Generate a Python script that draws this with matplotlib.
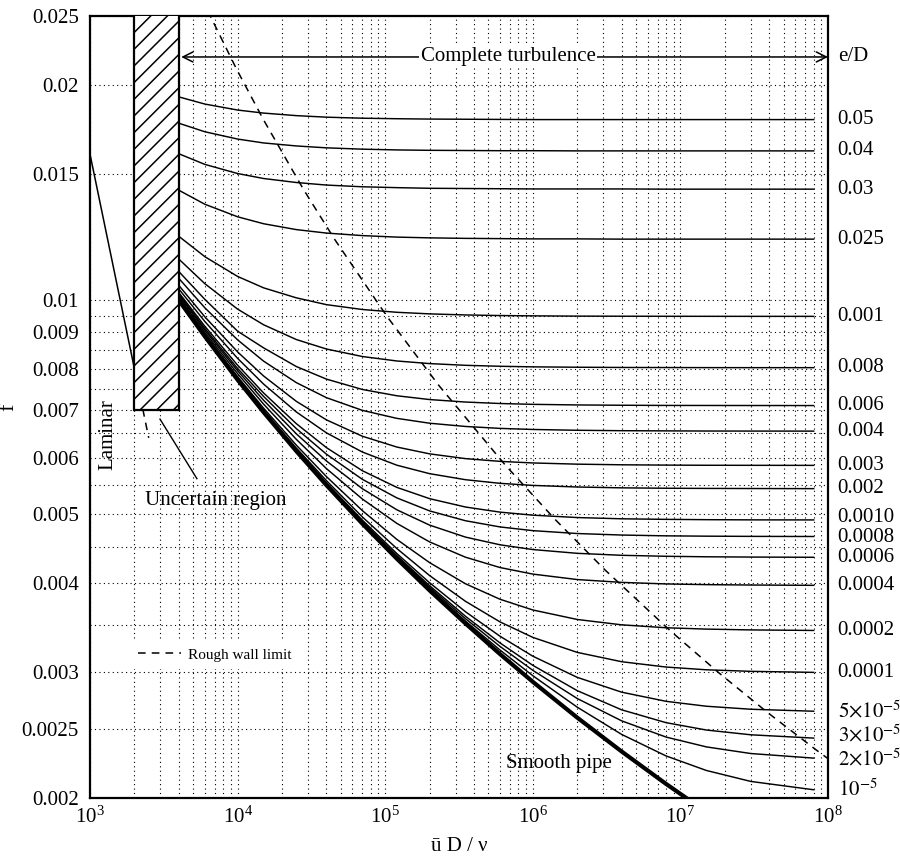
import matplotlib
matplotlib.use('Agg')
import matplotlib.pyplot as plt
import matplotlib.transforms as mtransforms
from matplotlib.lines import Line2D
from matplotlib.patches import Rectangle
from matplotlib.ticker import FixedLocator, FixedFormatter, NullFormatter, LogLocator

plt.rcParams['font.family'] = ['Liberation Serif', 'DejaVu Serif']
plt.rcParams['mathtext.fontset'] = 'stix'
plt.rcParams['hatch.linewidth'] = 1.1

# ---------------- data ----------------
re_grid = [4e3, 6e3, 1e4, 1.5e4, 2.5e4, 4e4, 7e4, 1.2e5, 2e5, 3.5e5, 6e5,
           1e6, 2e6, 4e6, 8e6, 1.5e7, 3e7, 8e7]

f_c01 = [0.01925, 0.01881, 0.01845, 0.01827, 0.01812, 0.01803, 0.01797, 0.01794, 0.01792,
         0.01791, 0.01790, 0.01789, 0.01789, 0.01789, 0.01789, 0.01789, 0.01789, 0.01789]
f_c02 = [0.01768, 0.01720, 0.01680, 0.01659, 0.01643, 0.01633, 0.01626, 0.01622, 0.01620,
         0.01619, 0.01618, 0.01618, 0.01617, 0.01617, 0.01617, 0.01617, 0.01617, 0.01617]
f_c03 = [0.01602, 0.01548, 0.01503, 0.01479, 0.01460, 0.01448, 0.01440, 0.01436, 0.01433,
         0.01432, 0.01431, 0.01430, 0.01430, 0.01430, 0.01429, 0.01429, 0.01429, 0.01429]
f_c04 = [0.01424, 0.01361, 0.01307, 0.01278, 0.01254, 0.01240, 0.01230, 0.01224, 0.01221,
         0.01219, 0.01218, 0.01217, 0.01217, 0.01216, 0.01216, 0.01216, 0.01216, 0.01216]
f_c05 = [0.01227, 0.01149, 0.01078, 0.01039, 0.01006, 0.009841, 0.009688, 0.009601, 0.009552,
         0.009519, 0.009501, 0.009491, 0.009483, 0.009480, 0.009478, 0.009477, 0.009476, 0.009476]
f_c06 = [0.01140, 0.01053, 0.009700, 0.009222, 0.008792, 0.008527, 0.008323, 0.008204, 0.008135,
         0.008090, 0.008065, 0.008050, 0.008040, 0.008034, 0.008032, 0.008030, 0.008029, 0.008029]
f_c07 = [0.01095, 0.01001, 0.009033, 0.008559, 0.008058, 0.007737, 0.007483, 0.007332, 0.007243,
         0.007185, 0.007151, 0.007132, 0.007118, 0.007111, 0.007107, 0.007106, 0.007105, 0.007104]
f_c08 = [0.01071, 0.009741, 0.008783, 0.008200, 0.007650, 0.007287, 0.006995, 0.006816, 0.006710,
         0.006640, 0.006599, 0.006576, 0.006559, 0.006550, 0.006546, 0.006543, 0.006542, 0.006541]
f_c09 = [0.01047, 0.009461, 0.008448, 0.007816, 0.007201, 0.006783, 0.006434, 0.006213, 0.006078,
         0.005985, 0.005932, 0.005902, 0.005879, 0.005867, 0.005861, 0.005858, 0.005857, 0.005856]
f_c10 = [0.01035, 0.009320, 0.008274, 0.007614, 0.006959, 0.006504, 0.006114, 0.005859, 0.005701,
         0.005591, 0.005526, 0.005489, 0.005461, 0.005446, 0.005439, 0.005436, 0.005434, 0.005432]
f_c11 = [0.01023, 0.009177, 0.008093, 0.007399, 0.006700, 0.006201, 0.005756, 0.005454, 0.005259,
         0.005119, 0.005035, 0.004986, 0.004948, 0.004928, 0.004919, 0.004914, 0.004911, 0.004910]
f_c12 = [0.01018, 0.009112, 0.008008, 0.007317, 0.006594, 0.006071, 0.005598, 0.005272, 0.005055,
         0.004897, 0.004800, 0.004743, 0.004699, 0.004676, 0.004664, 0.004659, 0.004656, 0.004654]
f_c13 = [0.01014, 0.009059, 0.007948, 0.007227, 0.006484, 0.005939, 0.005431, 0.005073, 0.004828,
         0.004645, 0.004531, 0.004462, 0.004408, 0.004380, 0.004366, 0.004359, 0.004355, 0.004352]
f_c14 = [0.01008, 0.008996, 0.007875, 0.007137, 0.006369, 0.005795, 0.005253, 0.004855, 0.004573,
         0.004353, 0.004210, 0.004122, 0.004050, 0.004013, 0.003993, 0.003984, 0.003979, 0.003975]
f_c15 = [0.01003, 0.008937, 0.007799, 0.007045, 0.006251, 0.005647, 0.005060, 0.004610, 0.004277,
         0.003995, 0.003800, 0.003671, 0.003560, 0.003499, 0.003466, 0.003451, 0.003442, 0.003436]
f_c16 = [0.009999, 0.008907, 0.007759, 0.007000, 0.006193, 0.005574, 0.004958, 0.004476, 0.004102,
         0.003775, 0.003532, 0.003360, 0.003201, 0.003106, 0.003053, 0.003026, 0.003011, 0.003001]
f_c17 = [0.009989, 0.008890, 0.007741, 0.006976, 0.006161, 0.005533, 0.004907, 0.004404, 0.004008,
         0.003650, 0.003372, 0.003162, 0.002953, 0.002815, 0.002733, 0.002690, 0.002664, 0.002647]
f_c18 = [0.009984, 0.008885, 0.007732, 0.006966, 0.006150, 0.005517, 0.004885, 0.004376, 0.003970,
         0.003597, 0.003300, 0.003070, 0.002829, 0.002659, 0.002551, 0.002491, 0.002453, 0.002427]
f_c19 = [0.009981, 0.008882, 0.007728, 0.006961, 0.006143, 0.005508, 0.004873, 0.004361, 0.003950,
         0.003569, 0.003263, 0.003021, 0.002758, 0.002566, 0.002435, 0.002359, 0.002309, 0.002275]
f_c20 = [0.009978, 0.008878, 0.007724, 0.006956, 0.006136, 0.005501, 0.004862, 0.004346, 0.003930,
         0.003541, 0.003225, 0.002969, 0.002682, 0.002456, 0.002291, 0.002186, 0.002110, 0.002054]

curve_labels = ['0.05', '0.04', '0.03', '0.025', '0.001', '0.008', '0.006', '0.004', '0.003',
                '0.002', '0.0010', '0.0008', '0.0006', '0.0004', '0.0002', '0.0001',
                r'$5{\times}10^{-5}$', r'$3{\times}10^{-5}$', r'$2{\times}10^{-5}$', r'$10^{-5}$']

re_smooth = [4e3, 6e3, 1e4, 1.5e4, 2.5e4, 4e4, 7e4, 1.2e5, 2e5, 3.5e5, 6e5, 1e6, 2e6, 4e6, 8e6, 1.5e7]
f_smooth = [0.00998, 0.00888, 0.00772, 0.006953, 0.006131, 0.005493, 0.004851, 0.004331, 0.00391,
            0.003514, 0.003183, 0.002911, 0.002593, 0.002324, 0.002093, 0.001912]

re_limit = [6272, 9846, 14953, 27880, 45340, 102730, 229536, 653400, 1.427e6, 3.095e6,
            8.534e6, 1.827e7, 3.895e7, 8.27e7, 1.053e8]
f_limit = [0.02542, 0.02105, 0.01789, 0.01429, 0.01216, 0.009476, 0.007592, 0.005856, 0.00491,
           0.004175, 0.003433, 0.002995, 0.002636, 0.002338, 0.002253]

re_laminar = [1e3, 2e3]
f_laminar = [0.016, 0.008]
re_laminar_ext = [2e3, 2.5e3]
f_laminar_ext = [0.008, 0.0064]

y_ticks = [0.002, 0.0025, 0.003, 0.004, 0.005, 0.006, 0.007, 0.008, 0.009, 0.01, 0.015, 0.02, 0.025]
y_tick_labels = ['0.002', '0.0025', '0.003', '0.004', '0.005', '0.006', '0.007', '0.008',
                 '0.009', '0.01', '0.015', '0.02', '0.025']
y_minor_grid = [0.0035, 0.0045, 0.0055, 0.0065, 0.0075, 0.0085, 0.0095]

# small vertical nudges (points) for the crowded right-hand labels
label_nudge = {'0.0010': 1.5, '0.0008': -0.5, '0.0006': -0.5,
               r'$3{\times}10^{-5}$': 2.0, r'$2{\times}10^{-5}$': -1.2}

# ---------------- figure ----------------
FS = 15
fig = plt.figure(figsize=(9, 8.59), dpi=100)
ax = fig.add_axes([0.1, 0.071, 0.82, 0.9104])
ax.set_xscale('log')
ax.set_yscale('log')
ax.set_xlim(1e3, 1e8)
ax.set_ylim(0.002, 0.025)

ax.yaxis.set_major_locator(FixedLocator(y_ticks))
ax.yaxis.set_major_formatter(FixedFormatter(y_tick_labels))
ax.yaxis.set_minor_locator(FixedLocator(y_minor_grid))
ax.yaxis.set_minor_formatter(NullFormatter())
ax.xaxis.set_major_locator(LogLocator(base=10))
ax.xaxis.set_minor_locator(LogLocator(base=10, subs=[2, 3, 4, 5, 6, 7, 8, 9]))
ax.xaxis.set_minor_formatter(NullFormatter())
ax.tick_params(which='both', length=0, labelsize=FS)
ax.tick_params(axis='y', pad=8)
ax.tick_params(axis='x', pad=6)
ax.grid(which='both', axis='both', color='k', lw=0.8, ls=(0, (1, 3)))
ax.set_axisbelow(True)
for sp in ax.spines.values():
    sp.set_linewidth(1.6)

# curves
curves = [f_c01, f_c02, f_c03, f_c04, f_c05, f_c06, f_c07, f_c08, f_c09, f_c10,
          f_c11, f_c12, f_c13, f_c14, f_c15, f_c16, f_c17, f_c18, f_c19, f_c20]
trans = mtransforms.blended_transform_factory(ax.transAxes, ax.transData)
for fv, lab in zip(curves, curve_labels):
    ax.plot(re_grid, fv, color='k', lw=1.05, zorder=3)
    ax.annotate(lab, xy=(1, fv[-1]), xycoords=trans, xytext=(7, label_nudge.get(lab, 0)),
                textcoords='offset points', ha='left', va='center', fontsize=FS,
                annotation_clip=False)

ax.plot(re_smooth, f_smooth, color='k', lw=3.0, zorder=4, solid_capstyle='butt')
ax.plot(re_limit, f_limit, color='k', lw=1.1, ls='--', dashes=(5, 4), zorder=3)

ax.plot(re_laminar, f_laminar, color='k', lw=1.1, zorder=3)
ax.plot(re_laminar_ext, f_laminar_ext, color='k', lw=1.1, ls='--', dashes=(5, 4), zorder=2)

box = Rectangle((2e3, 0.007), 2e3, 0.03, facecolor='white', edgecolor='k', hatch='//',
                lw=1.6, zorder=5)
ax.add_patch(box)

# annotations
ax.annotate('', xy=(4.15e3, 0.0219), xytext=(1e8, 0.0219),
            arrowprops=dict(arrowstyle='<->', lw=1.1, color='k', shrinkA=0, shrinkB=0,
                            mutation_scale=18), zorder=4)
ax.text(6.8e5, 0.0219, 'Complete turbulence', ha='center', va='center', fontsize=FS,
        bbox=dict(facecolor='white', edgecolor='none', pad=1), zorder=6)
ax.annotate('e/D', xy=(1, 0.0219), xycoords=trans, xytext=(7, 0), textcoords='offset points',
            ha='left', va='center', fontsize=FS, annotation_clip=False)

ax.text(1.33e3, 0.00646, 'Laminar', rotation=90, ha='center', va='center', fontsize=FS)
ax.plot([2.98e3, 5.3e3], [0.0068, 0.00561], color='k', lw=1.0, zorder=3)
ax.text(7.1e3, 0.00523, 'Uncertain region', ha='center', va='center', fontsize=FS)
ax.text(1.51e6, 0.002237, 'Smooth pipe', ha='center', va='center', fontsize=FS)

leg = ax.legend([Line2D([0], [0], color='k', lw=1.1, ls='--', dashes=(5, 4))],
                ['Rough wall limit'], loc='center left', bbox_to_anchor=(0.044, 0.183),
                frameon=True, fancybox=False, edgecolor='none', facecolor='white',
                framealpha=1, fontsize=11, handlelength=2.8, handletextpad=0.5,
                borderpad=0.5)
leg.set_zorder(6)

ax.set_xlabel('ū D / ν', fontsize=FS, labelpad=7)
ax.set_ylabel('f', fontsize=16, rotation=90)
ax.yaxis.set_label_coords(-0.097, 0.5)

fig.savefig('out.png', dpi=100)
